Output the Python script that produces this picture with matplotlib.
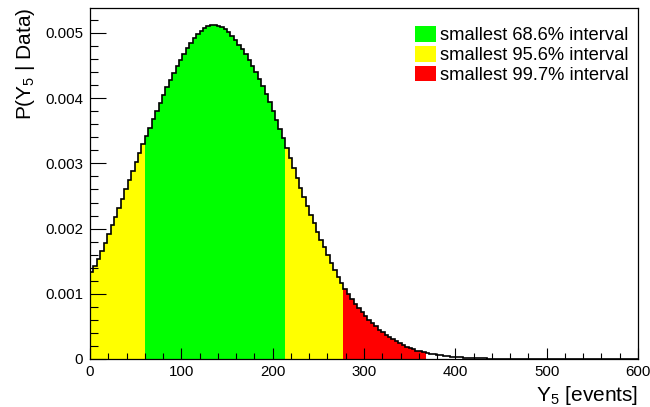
import numpy as np
import matplotlib
matplotlib.use("Agg")
import matplotlib.pyplot as plt
from matplotlib.patches import Patch
from matplotlib.ticker import MultipleLocator, FuncFormatter

plt.rcParams['font.family'] = ['Liberation Sans', 'DejaVu Sans']
plt.rcParams['mathtext.fontset'] = 'custom'
plt.rcParams['mathtext.rm'] = 'Liberation Sans'
plt.rcParams['mathtext.it'] = 'Liberation Sans'

# ---- data ----
x_range = (0, 600)
n_bins = 160
density = [
    133e-5, 143e-5, 153e-5, 165e-5, 178e-5, 191e-5, 205e-5, 218e-5, 232e-5, 246e-5,
    260e-5, 275e-5, 289e-5, 302e-5, 316e-5, 329e-5, 342e-5, 355e-5, 368e-5, 381e-5,
    393e-5, 405e-5, 417e-5, 428e-5, 439e-5, 449e-5, 459e-5, 468e-5, 477e-5, 485e-5,
    492e-5, 498e-5, 503e-5, 507e-5, 510e-5, 512e-5, 512e-5, 511e-5, 509e-5, 506e-5,
    501e-5, 495e-5, 489e-5, 482e-5, 475e-5, 467e-5, 459e-5, 450e-5, 440e-5, 429e-5,
    418e-5, 406e-5, 394e-5, 381e-5, 367e-5, 353e-5, 339e-5, 324e-5, 308e-5, 293e-5,
    278e-5, 263e-5, 249e-5, 235e-5, 221e-5, 208e-5, 195e-5, 183e-5, 171e-5, 159e-5,
    147e-5, 136e-5, 126e-5, 117e-5, 108e-5, 100e-5, 92e-5, 85e-5, 78e-5, 72e-5,
    66e-5, 60e-5, 55e-5, 50e-5, 45e-5, 41e-5, 37e-5, 33e-5, 30e-5, 27e-5,
    24e-5, 22e-5, 19e-5, 17e-5, 15e-5, 13e-5, 12e-5, 10e-5, 9e-5, 8e-5,
    7e-5, 6e-5, 5.5e-5, 4.8e-5, 4.2e-5, 3.7e-5, 3.2e-5, 2.8e-5, 2.4e-5, 2.1e-5,
    1.8e-5, 1.5e-5, 1.3e-5, 1.1e-5, 0.95e-5, 0.8e-5, 0.7e-5, 0.6e-5, 0.5e-5, 0.42e-5,
    0.35e-5, 0.3e-5, 0.25e-5, 0.21e-5, 0.18e-5, 0.15e-5, 0.12e-5, 0.1e-5, 0.08e-5, 0.07e-5,
    0.06e-5, 0.05e-5, 0.04e-5, 0.035e-5, 0.03e-5, 0.025e-5, 0.02e-5, 0.017e-5, 0.014e-5, 0.012e-5,
    0.01e-5, 0.008e-5, 0.007e-5, 0.006e-5, 0.005e-5, 0.004e-5, 0.003e-5, 0.003e-5, 0.002e-5, 0.002e-5,
    0.002e-5, 0.001e-5, 0.001e-5, 0.001e-5, 0.001e-5, 0.001e-5, 0.0005e-5, 0.0005e-5, 0.0005e-5, 0.0005e-5,
]
# intervals as bin index ranges [first, last+1)
interval_labels = ["smallest 99.7% interval", "smallest 95.6% interval", "smallest 68.6% interval"]
interval_bins = [(0, 98), (0, 74), (16, 57)]
interval_colors = ["#ff0000", "#ffff00", "#00ff00"]

x_ticks = [0, 100, 200, 300, 400, 500, 600]
y_ticks = [0, 0.001, 0.002, 0.003, 0.004, 0.005]
x_label = r"$\mathregular{Y_{5}}$ [events]"
y_label = r"P($\mathregular{Y_{5}}$ | Data)"

# ---- plot ----
density = np.array(density)
edges = np.linspace(x_range[0], x_range[1], n_bins + 1)

fig = plt.figure(figsize=(6.5, 4.07), dpi=100)
ax = fig.add_axes([90/650, 1 - 359/407, 548/650, 351/407])

for (a, b), c in zip(interval_bins, interval_colors):
    ax.stairs(density[a:b], edges[a:b + 1], fill=True, color=c, linewidth=0)

ax.stairs(density, edges, baseline=None, color='black', linewidth=1.2)

ax.set_xlim(*x_range)
ax.set_ylim(0, 0.005383)
ax.set_xticks(x_ticks)
ax.set_yticks(y_ticks)
ax.xaxis.set_minor_locator(MultipleLocator(20))
ax.yaxis.set_minor_locator(MultipleLocator(0.0002))
ax.yaxis.set_major_formatter(FuncFormatter(lambda v, p: "0" if v == 0 else f"{v:.3f}"))
ax.xaxis.set_major_formatter(FuncFormatter(lambda v, p: f"{v:.0f}"))

ax.tick_params(axis='both', which='both', direction='in', width=0.8, labelsize=10.8,
               top=False, right=False, colors='black')
ax.tick_params(axis='x', which='major', length=8, pad=4)
ax.tick_params(axis='x', which='minor', length=4)
ax.tick_params(axis='y', which='major', length=11.5, pad=5)
ax.tick_params(axis='y', which='minor', length=5.8)
for s in ax.spines.values():
    s.set_linewidth(0.9)

ax.set_xlabel(x_label, fontsize=15, loc='right', labelpad=4)
ax.set_ylabel(y_label, fontsize=15, loc='top', labelpad=6)

handles = [Patch(facecolor=c, edgecolor='none') for c in reversed(interval_colors)]
ax.legend(handles, list(reversed(interval_labels)), loc='upper left',
          bbox_to_anchor=(0.593, 0.9487), frameon=False, fontsize=13.2,
          handlelength=1.15, handleheight=0.93, handletextpad=0.22,
          labelspacing=0.1, borderpad=0, borderaxespad=0)

fig.savefig("out.png", dpi=100)
